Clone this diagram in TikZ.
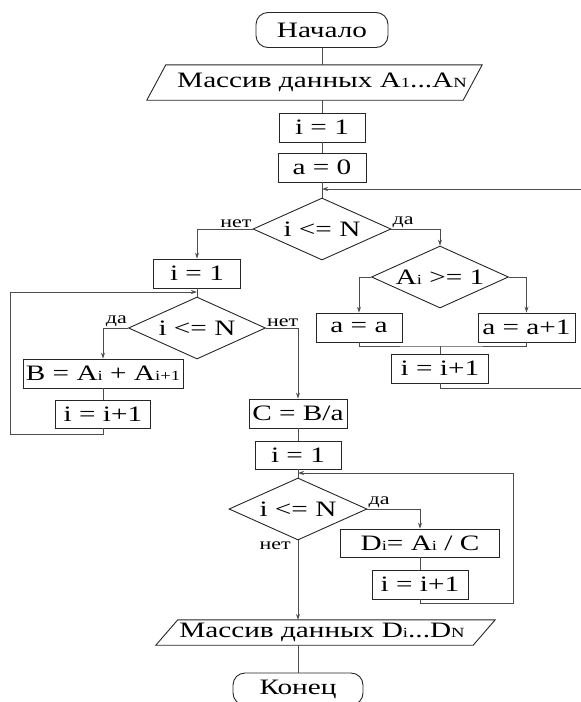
\documentclass[tikz,border=0pt]{standalone}
\usepackage{fontspec}
\setmainfont{Liberation Serif}[FakeStretch=1.33]
\usetikzlibrary{shapes.geometric,arrows.meta,calc}

% small index set on the baseline, as in A1 ... AN
\newcommand{\lowtxt}[1]{{\fontsize{14}{14}\selectfont #1}}

\begin{document}
\begin{tikzpicture}[x=1pt,y=-1pt,
  every node/.style={font=\fontsize{22}{23}\selectfont},
  proc/.style={draw=black!85, line width=0.9pt, rectangle, inner sep=0pt, minimum height=29pt},
  term/.style={proc, rounded corners=12pt},
  cond/.style={draw=black!85, line width=0.9pt, diamond, aspect=2.2, inner sep=0pt,
               minimum width=138pt, minimum height=62pt},
  io/.style={rectangle, inner sep=0pt, minimum height=35pt},
  link/.style={draw=black!70, line width=0.8pt},
  arr/.style={link, -{Stealth[length=6pt,width=4pt]}},
  lbl/.style={font=\fontsize{16.5}{16.5}\selectfont, inner sep=1pt},
]
\useasboundingbox (0,0) rectangle (581,702);

% ---- blocks ----
\node[term, minimum width=132pt, minimum height=35pt] (start) at (322,30) {Начало};
\node[io, minimum width=316pt] (inA) at (322,82.5) {Массив данных A\lowtxt{1}...A\lowtxt{N}};
\draw[draw=black!85, line width=0.9pt]
  ([xshift=2pt]inA.north west) -- ([xshift=2pt]inA.north east)
  -- ([xshift=-17pt]inA.south east) -- ([xshift=-17pt]inA.south west) -- cycle;
\node[proc, minimum width=86pt] (i1) at (322,127.5) {i = 1};
\node[proc, minimum width=88pt] (a0) at (322,167.5) {a = 0};
\node[cond] (d1) at (322,229) {i <= N};
\node[proc, minimum width=87pt] (i1b) at (197,273.5) {i = 1};
\node[cond, minimum width=137pt] (d2) at (440,277) {A\lowtxt{i} >= 1};
\node[proc, minimum width=86pt] (aa) at (359,327.5) {a = a};
\node[proc, minimum width=97pt] (aa1) at (526.5,327.5) {a = a+1};
\node[proc, minimum width=97pt] (inc1) at (440,368.5) {i = i+1};
\node[cond, minimum width=137pt] (d3) at (197,328) {i <= N};
\node[proc, minimum width=160pt] (B) at (103,373.5) {B = A\lowtxt{i} + A\lowtxt{i+1}};
\node[proc, minimum width=95pt, minimum height=28pt] (inc2) at (103,414) {i = i+1};
\node[proc, minimum width=98pt] (C) at (298,413.5) {C = B/a};
\node[proc, minimum width=86pt, minimum height=28pt] (i1c) at (298,455) {i = 1};
\node[cond] (d4) at (298,509) {i <= N};
\node[proc, minimum width=159pt, minimum height=28pt] (D) at (420,543) {D\lowtxt{i}= A\lowtxt{i} / C};
\node[proc, minimum width=96pt] (inc3) at (420,584.5) {i = i+1};
\node[io, minimum width=317pt, minimum height=25pt] (outD) at (322,632.5) {Массив данных D\lowtxt{i}...D\lowtxt{N}};
\draw[draw=black!85, line width=0.9pt]
  ([xshift=14.5pt]outD.north west) -- ([xshift=14.5pt]outD.north east)
  -- ([xshift=-7.5pt]outD.south east) -- ([xshift=-7.5pt]outD.south west) -- cycle;
\node[term, minimum width=130pt, minimum height=32pt] (end) at (298,689) {Конец};

% ---- main line ----
\draw[link] (start.south) -- (inA.north);
\draw[link] (inA.south) -- (i1.north);
\draw[link] (i1.south) -- (a0.north);
\draw[link] (a0.south) -- (d1.north);
\coordinate (r1) at (581,189);
\draw[arr] (r1) -- (r1 -| a0.south);

% ---- first loop: counting a ----
\draw[arr] (d1.east) -| (d2.north);
\node[lbl, above right] at (d1.east) {да};
\draw[arr] (d2.west) -| (aa.north);
\draw[arr] (d2.east) -| (aa1.north);
\coordinate (m1) at (440,346);
\draw[link] (aa.south) |- (m1) -| (aa1.south);
\draw[link] (m1) -- (inc1.north);
\coordinate (r2) at (581,388);
\draw[link] (inc1.south) |- (r2);

% ---- second loop: sum B ----
\draw[arr] (d1.west) -| (i1b.north);
\node[lbl, above left] at (d1.west) {нет};
\draw[link] (i1b.south) -- (d3.north);
\draw[arr] (d3.west) -| (B.north);
\node[lbl, above left] at (d3.west) {да};
\draw[link] (B.south) -- (inc2.north);
\coordinate (l2) at (10,292);
\draw[arr] (inc2.south) -- ++(0,6) -| (l2) -- (l2 -| d3.north);
\draw[arr] (d3.east) -| (C.north);
\node[lbl, above right] at (d3.east) {нет};

% ---- third loop: D ----
\draw[link] (C.south) -- (i1c.north);
\draw[link] (i1c.south) -- (d4.north);
\draw[arr] (d4.east) -| (D.north);
\node[lbl, above right] at (d4.east) {да};
\draw[link] (D.south) -- (inc3.north);
\coordinate (l3) at (513,473);
\draw[arr] (inc3.south) -- ++(0,4) -| (l3) -- (l3 -| d4.north);
\draw[arr] (d4.south) -- (d4.south |- outD.north);
\node[lbl, below left, xshift=-6pt] at (d4.south) {нет};
\draw[link] (outD.south -| end.north) -- (end.north);
\end{tikzpicture}
\end{document}
